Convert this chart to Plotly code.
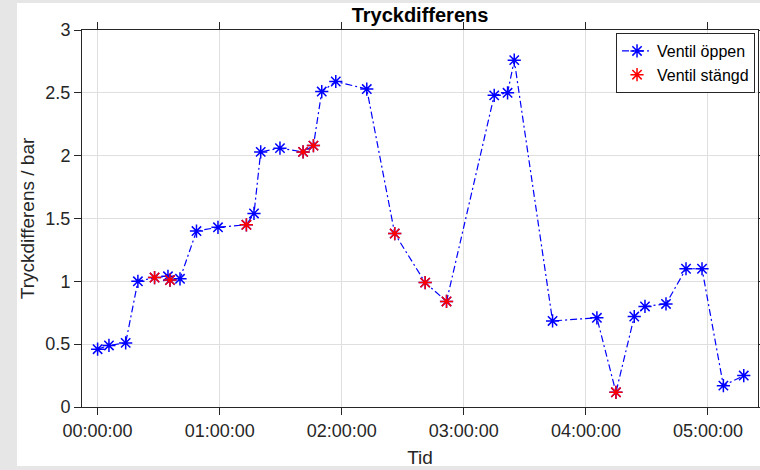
import plotly.graph_objects as go
import pandas as pd

# ---- data ----
tid = ["00:00:00", "00:05:35", "00:13:48", "00:19:48", "00:28:00", "00:34:35", "00:35:35",
       "00:40:30", "00:48:36", "00:59:10", "01:13:08", "01:16:52", "01:20:10", "01:29:38",
       "01:41:00", "01:46:05", "01:50:10", "01:57:04", "02:12:18", "02:26:02", "02:41:00",
       "02:51:30", "03:14:56", "03:21:30", "03:24:47", "03:43:37", "04:05:24", "04:14:46",
       "04:23:46", "04:29:02", "04:39:22", "04:49:12", "04:57:04", "05:07:34", "05:17:35"]
tryck = [0.46, 0.49, 0.51, 1.00, 1.03, 1.04, 1.01, 1.02, 1.40, 1.43, 1.45, 1.54, 2.03, 2.06,
         2.03, 2.08, 2.51, 2.59, 2.53, 1.38, 0.99, 0.84, 2.48, 2.50, 2.76, 0.685, 0.71, 0.117,
         0.72, 0.80, 0.82, 1.10, 1.10, 0.17, 0.25]
stangd = [False, False, False, False, True, False, True, False, False, False, True, False,
          False, False, True, True, False, False, False, True, True, True, False, False,
          False, False, False, True, False, False, False, False, False, False, False]
yticks = [0, 0.5, 1, 1.5, 2, 2.5, 3]
xtick_labels = ["00:00:00", "01:00:00", "02:00:00", "03:00:00", "04:00:00", "05:00:00"]

base = "2020-01-01 "
x_all = pd.to_datetime([base + t for t in tid])
x_closed = [x for x, s in zip(x_all, stangd) if s]
y_closed = [y for y, s in zip(tryck, stangd) if s]
xtick_vals = pd.to_datetime([base + t for t in xtick_labels])

fig = go.Figure()
fig.add_trace(go.Scatter(
    x=x_all, y=tryck, mode="lines+markers", name="Ventil öppen",
    line=dict(color="#0000ff", width=1.2, dash="7px,3px,2px,3px"),
    marker=dict(symbol="asterisk-open", size=11, color="#0000ff",
                line=dict(color="#0000ff", width=1.5)),
))
fig.add_trace(go.Scatter(
    x=x_closed, y=y_closed, mode="markers", name="Ventil stängd",
    marker=dict(symbol="asterisk-open", size=11, color="#ff0000",
                line=dict(color="#ff0000", width=1.5)),
))

axis_col = "#262626"
font_fam = "Liberation Sans, Arial, sans-serif"

fig.update_layout(
    width=760, height=470,
    paper_bgcolor="#e6e6e6", plot_bgcolor="white",
    margin=dict(l=82, r=2, t=30, b=63, autoexpand=False),
    font=dict(family=font_fam, color=axis_col, size=18),
    title=dict(text="<b>Tryckdifferens</b>", x=(82 + 758) / 2 / 760, xanchor="center",
               y=1 - 15 / 470, yanchor="middle", yref="container",
               font=dict(size=20, color="#000000", family=font_fam)),
    showlegend=True,
    legend=dict(x=0.9956, y=0.992, xanchor="right", yanchor="top",
                bgcolor="white", bordercolor=axis_col, borderwidth=1,
                font=dict(size=16, color="#000000"), itemwidth=30,
                tracegroupgap=0),
    shapes=[dict(type="rect", xref="paper", yref="paper", layer="below",
                 x0=(17 - 82) / 676, x1=1.05, y0=(407 - 466) / 377, y1=(407 - 3) / 377,
                 fillcolor="white", line=dict(width=0))],
)

fig.update_xaxes(
    type="date",
    range=[pd.Timestamp("2019-12-31 23:52:20"), pd.Timestamp("2020-01-01 05:24:35")],
    tickvals=xtick_vals, ticktext=xtick_labels,
    showgrid=True, gridcolor="#dfdfdf", gridwidth=1,
    showline=True, linecolor=axis_col, linewidth=1, mirror="ticks",
    ticks="outside", ticklen=7, tickcolor=axis_col, tickwidth=1,
    tickfont=dict(size=18, color=axis_col),
    title=dict(text="Tid", font=dict(size=19, color=axis_col), standoff=11),
    zeroline=False,
)
fig.update_yaxes(
    range=[0, 3], tickvals=yticks,
    showgrid=True, gridcolor="#dfdfdf", gridwidth=1,
    showline=True, linecolor=axis_col, linewidth=1, mirror="ticks",
    ticks="outside", ticklen=7, tickcolor=axis_col, tickwidth=1,
    tickfont=dict(size=18, color=axis_col),
    title=dict(text="Tryckdifferens / bar", font=dict(size=19, color=axis_col), standoff=5),
    zeroline=False,
)

fig.write_html("out.html", config={"displayModeBar": False},
               post_script="document.body.style.margin='0';document.body.style.overflow='hidden';")
